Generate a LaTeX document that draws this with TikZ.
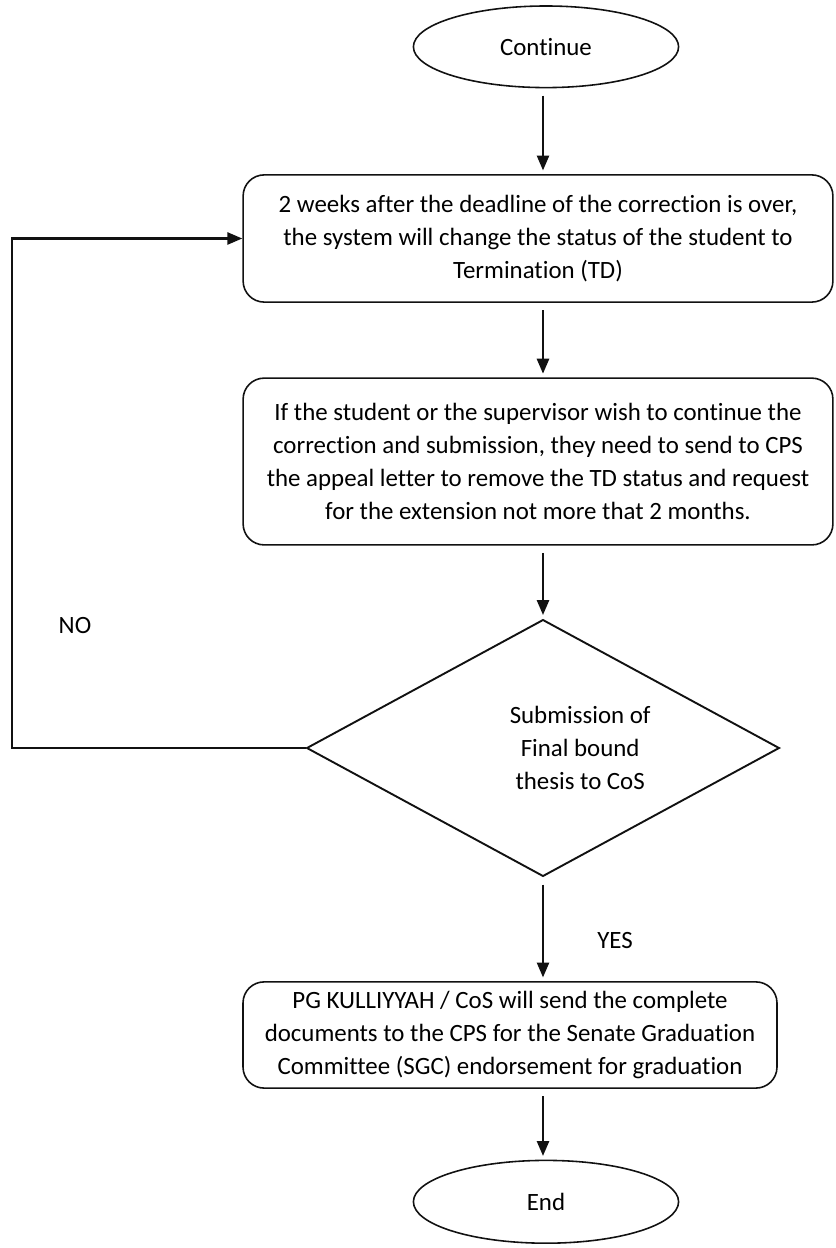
\documentclass[tikz,border=0pt]{standalone}
\usepackage{fontspec}
\setmainfont{Carlito}[Ligatures=NoCommon]
\usepackage{tikz}
\usetikzlibrary{arrows.meta,positioning,shapes.geometric}
\definecolor{inkdark}{HTML}{111111}
\tikzset{
  flowbox/.style={
    rounded corners=10pt,
    draw=inkdark,
    line width=0.75pt,
    align=center,
    inner sep=4pt
  },
  termbox/.style={
    ellipse,
    draw=inkdark,
    line width=0.75pt,
    minimum width=4.42cm,
    minimum height=1.36cm
  },
  decisionbox/.style={
    diamond,
    draw=inkdark,
    line width=0.9pt,
    minimum width=7.88cm,
    minimum height=4.28cm,
    inner sep=0pt
  },
  arrow/.style={-{Triangle[length=2.5mm,width=2mm]}, line width=1.25pt, draw=inkdark},
  steparrow/.style={arrow, shorten <=0.12cm, shorten >=0.06cm}
}

\begin{document}
\begin{tikzpicture}[x=1cm,y=1cm, font=\fontsize{11.8}{15.6}\selectfont]
  \useasboundingbox (0,0) rectangle (13.917,20.8);

  % start
  \node[termbox] (cont) at (9.1,20.02) {Continue};

  % steps
  \node[flowbox, minimum width=9.83cm, minimum height=2.12cm] (timeout) at (8.967,16.825)
    {2 weeks after the deadline of the correction is over,\\the system will change the status of the student to\\Termination (TD)};
  \node[flowbox, minimum width=9.83cm, minimum height=2.78cm] (appeal) at (8.967,13.108)
    {If the student or the supervisor wish to continue the\\correction and submission, they need to send to CPS\\the appeal letter to remove the TD status and request\\for the extension not more that 2 months.};

  % decision
  \node[decisionbox] (submit) at (9.05,8.333) {};
  \node[align=center] (submittext) at (9.67,8.333) {Submission of\\Final bound\\thesis to CoS};

  \node[flowbox, minimum width=8.9cm, minimum height=1.77cm] (endorse) at (8.5,3.55)
    {PG KULLIYYAH / CoS will send the complete\\documents to the CPS for the Senate Graduation\\Committee (SGC) endorsement for graduation};

  % end
  \node[termbox, minimum height=1.38cm] (finish) at (9.1,0.77) {End};

  \coordinate (loopx) at (0.2,0);
  \node (nolabel) at (1.25,10.38) {NO};
  \node (yeslabel) at (10.25,5.13) {YES};

  % arrows
  \draw[steparrow] (cont.south -| submit.north) -- (timeout.north -| submit.north);
  \draw[steparrow] (timeout.south -| submit.north) -- (appeal.north -| submit.north);
  \draw[steparrow] (appeal.south -| submit.north) -- (submit.north);
  \draw[steparrow] (submit.south) -- (submit.south |- endorse.north);
  \draw[steparrow] (endorse.south -| submit.south) -- (finish.north -| submit.south);
  \draw[arrow] (submit.west) -- (loopx |- submit.west) |- (timeout.west);
\end{tikzpicture}
\end{document}
